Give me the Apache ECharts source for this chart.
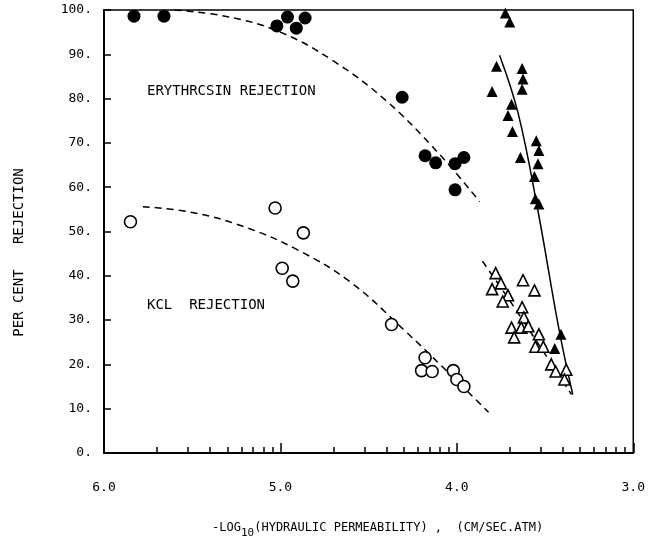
<!DOCTYPE html>
<html>
<head>
    <meta charset="UTF-8">
    <title>Rejection vs hydraulic permeability</title>
    <script src="https://cdn.jsdelivr.net/npm/echarts@6/dist/echarts.min.js"></script>
</head>
<body style="margin:0">
    <div id="main" style="width: 648px; height: 544px;"></div>
    <script>
        // data: [ -log10(permeability), per cent rejection ]
        var eryCircles = [
            [5.83, 98.6], [5.66, 98.6], [5.02, 96.4], [4.96, 98.4], [4.91, 95.9], [4.86, 98.2],
            [4.31, 80.3], [4.18, 67.1], [4.12, 65.5], [4.01, 65.3], [3.96, 66.7], [4.01, 59.4]
        ];
        var kclCircles = [
            [5.85, 52.2], [5.03, 55.3], [4.87, 49.7], [4.99, 41.7], [4.93, 38.8],
            [4.37, 29.0], [4.18, 21.5], [4.20, 18.6], [4.14, 18.4], [4.02, 18.6], [4.00, 16.6], [3.96, 15.0]
        ];
        var eryTriangles = [
            [3.725, 99.3], [3.70, 97.3], [3.775, 87.3], [3.80, 81.6], [3.63, 86.8], [3.625, 84.4],
            [3.63, 82.1], [3.69, 78.7], [3.71, 76.2], [3.685, 72.6], [3.64, 66.7], [3.55, 70.5],
            [3.535, 68.3], [3.54, 65.3], [3.56, 62.4], [3.555, 57.4], [3.535, 56.2],
            [3.41, 26.8], [3.445, 23.6]
        ];
        var kclTriangles = [
            [3.78, 40.6], [3.75, 38.3], [3.80, 37.0], [3.71, 35.6], [3.74, 34.2], [3.625, 39.0],
            [3.56, 36.7], [3.63, 32.9], [3.62, 30.6], [3.69, 28.3], [3.635, 28.3], [3.595, 28.6],
            [3.675, 26.1], [3.535, 26.8], [3.555, 24.0], [3.51, 24.0], [3.465, 20.0], [3.44, 18.4],
            [3.38, 18.8], [3.39, 16.6]
        ];
        // fitted curves as drawn
        var eryCurve = [[5.60, 100], [5.30, 98.5], [5.00, 95], [4.70, 88.5], [4.40, 79.5], [4.10, 67.5], [3.87, 56.7]];
        var kclCurve = [[5.78, 55.6], [5.50, 54.3], [5.20, 51], [4.90, 45.8], [4.60, 38.5], [4.30, 27.8], [4.07, 19], [3.82, 9.2]];
        var eryTriCurve = [[3.758, 89.8], [3.652, 76.6], [3.539, 54.4], [3.421, 27.9], [3.343, 13.2]];
        var kclTriCurve = [[3.855, 43.3], [3.70, 34.4], [3.35, 13.2]];

        var xTicks = [6, 5, 4, 3];
        // log-spaced minor ticks inside each decade
        var minorTicks = [];
        xTicks.slice(0, 3).forEach(function (d) {
            for (var k = 2; k <= 9; k++) minorTicks.push(d - Math.log10(k));
        });

        var FONT = 'DejaVu Sans Mono';
        var myChart = echarts.init(document.getElementById('main'));

        var dashed = { color: '#000', width: 1.5, type: [7, 5] };

        var option = {
            backgroundColor: '#fff',
            animation: false,
            grid: {
                left: 104, right: 10, top: 10, bottom: 91,
                show: true, borderColor: '#000', borderWidth: 1.5
            },
            xAxis: [{
                type: 'value', position: 'bottom', inverse: true,
                min: 3, max: 6, interval: 1,
                splitLine: { show: false },
                axisLine: { lineStyle: { color: '#000', width: 2 } },
                axisTick: { inside: true, length: 10, lineStyle: { color: '#000', width: 1.5 } },
                axisLabel: {
                    margin: 28, color: '#000', fontFamily: FONT, fontSize: 13,
                    formatter: function (v) { return v.toFixed(1); }
                },
                name: '{a|-LOG}{s|10}{a|(HYDRAULIC PERMEABILITY) ,  (CM/SEC.ATM)}',
                nameLocation: 'middle', nameGap: 64,
                nameTextStyle: {
                    padding: [0, 0, 0, 18],
                    rich: {
                        a: { fontFamily: FONT, fontSize: 12, color: '#000', lineHeight: 22, verticalAlign: 'middle' },
                        s: { fontFamily: FONT, fontSize: 11, color: '#000', lineHeight: 22, verticalAlign: 'bottom' }
                    }
                }
            }, {
                type: 'value', position: 'bottom', inverse: true,
                min: 3, max: 6,
                splitLine: { show: false },
                axisLine: { show: false },
                axisLabel: { show: false },
                axisTick: { inside: true, length: 6, customValues: minorTicks, lineStyle: { color: '#000', width: 1.5 } }
            }],
            yAxis: {
                type: 'value', min: 0, max: 100, interval: 10,
                splitLine: { show: false },
                axisLine: { lineStyle: { color: '#000', width: 2 } },
                axisTick: { inside: true, length: 7, lineStyle: { color: '#000', width: 1.5 } },
                axisLabel: {
                    margin: 12, color: '#000', fontFamily: FONT, fontSize: 13,
                    padding: [5, 0, 0, 0],
                    formatter: function (v) { return v + '.'; }
                },
                name: 'PER CENT   REJECTION',
                nameLocation: 'middle', nameGap: 78,
                nameTextStyle: { color: '#000', fontFamily: FONT, fontSize: 14, padding: [0, 42, 0, 0] }
            },
            graphic: [
                { type: 'text', left: 147, top: 84, style: { text: 'ERYTHRCSIN REJECTION', font: '14px ' + FONT, fill: '#000' } },
                { type: 'text', left: 147, top: 298, style: { text: 'KCL  REJECTION', font: '14px ' + FONT, fill: '#000' } }
            ],
            series: [
                { type: 'line', data: eryCurve, smooth: 0.4, symbol: 'none', lineStyle: dashed, z: 1 },
                { type: 'line', data: kclCurve, smooth: 0.4, symbol: 'none', lineStyle: dashed, z: 1 },
                { type: 'line', data: eryTriCurve, smooth: 0.4, symbol: 'none', lineStyle: { color: '#000', width: 1.5 }, z: 1 },
                { type: 'line', data: kclTriCurve, smooth: 0.3, symbol: 'none', lineStyle: dashed, z: 1 },
                {
                    type: 'scatter', data: eryCircles, symbol: 'circle', symbolSize: 13,
                    itemStyle: { color: '#000', opacity: 1 }, z: 3
                },
                {
                    type: 'scatter', data: kclCircles, symbol: 'circle', symbolSize: 12,
                    itemStyle: { color: '#fff', borderColor: '#000', borderWidth: 1.6, opacity: 1 }, z: 3
                },
                {
                    type: 'scatter', data: eryTriangles, symbol: 'triangle', symbolSize: 11,
                    itemStyle: { color: '#000', opacity: 1 }, z: 3
                },
                {
                    type: 'scatter', data: kclTriangles, symbol: 'triangle', symbolSize: 11,
                    itemStyle: { color: '#fff', borderColor: '#000', borderWidth: 1.6, opacity: 1 }, z: 3
                }
            ]
        };
        myChart.setOption(option);
    </script>
</body>
</html>
